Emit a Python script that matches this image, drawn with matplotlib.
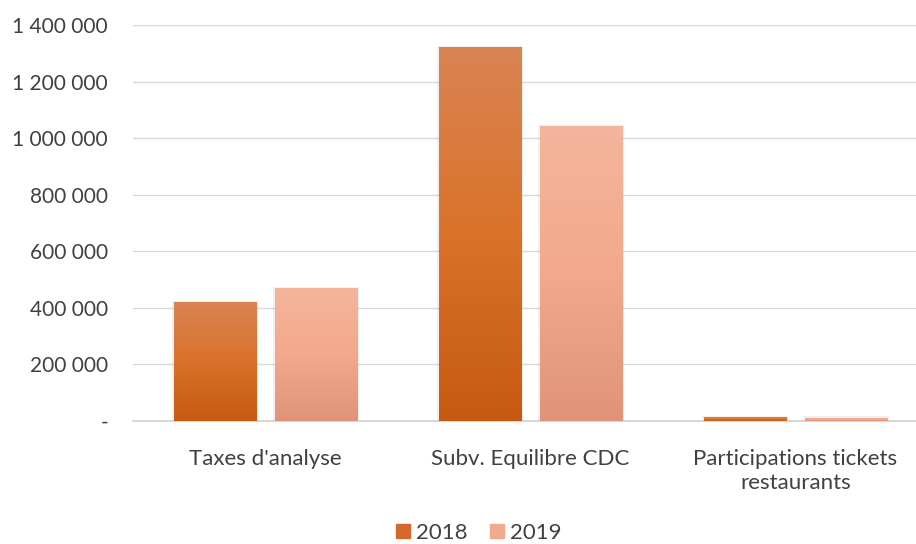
import numpy as np
import matplotlib
matplotlib.use("Agg")
import matplotlib.pyplot as plt
from matplotlib.colors import LinearSegmentedColormap

categories = ["Taxes d'analyse", "Subv. Equilibre CDC", "Participations tickets\nrestaurants"]
series_names = ["2018", "2019"]
values_2018 = [421000, 1322000, 13000]
values_2019 = [471000, 1043000, 12000]
yticks = [0, 200000, 400000, 600000, 800000, 1000000, 1200000, 1400000]
ytick_labels = ["-", "200 000", "400 000", "600 000", "800 000", "1 000 000", "1 200 000", "1 400 000"]

plt.rcParams['font.family'] = ['Lato', 'DejaVu Sans']
text_color = "#404040"

fig = plt.figure(figsize=(9.16, 5.44), dpi=100)
ax = fig.add_axes([133/916, (544-421)/544, 795/916, 396/544])

x = np.arange(len(categories))
w = 0.31
off = 0.19
grad_2018 = LinearSegmentedColormap.from_list("g18", ["#C65A12", "#DA7229", "#D98454"])
grad_2019 = LinearSegmentedColormap.from_list("g19", ["#E0937A", "#F3A98B", "#F4B59C"])
solid = {"2018": "#D5682A", "2019": "#F2AA8E"}

grad = np.linspace(0, 1, 256).reshape(-1, 1)
for vals, dx, cmap, name in [(values_2018, -off, grad_2018, "2018"), (values_2019, off, grad_2019, "2019")]:
    bars = ax.bar(x + dx, vals, width=w, color=solid[name], label=name, zorder=3, linewidth=0)
    for b in bars:
        x0, y0 = b.get_x(), b.get_y()
        bw, bh = b.get_width(), b.get_height()
        # soft shadow
        ax.bar(x0 + bw/2, bh + 4000, width=bw + 0.012, bottom=0, color="#000000", alpha=0.06, zorder=2, linewidth=0)
        im = ax.imshow(grad, extent=[x0, x0 + bw, y0, y0 + bh], origin="lower", aspect="auto",
                       cmap=cmap, zorder=4)
        im.set_clip_path(b)

ax.set_xlim(-0.5, 2.5)
ax.set_ylim(0, 1400000)
ax.set_yticks(yticks)
ax.set_yticklabels(ytick_labels)
ax.set_xticks(x)
ax.set_xticklabels(categories, linespacing=1.25)
ax.tick_params(axis='both', length=0, colors=text_color)
ax.tick_params(axis='x', labelsize=16, pad=20)
ax.tick_params(axis='y', labelsize=15, pad=18)
ax.grid(axis='y', color="#D9D9D9", linewidth=1, zorder=0)
for s in ["top", "right", "left"]:
    ax.spines[s].set_visible(False)
ax.spines["bottom"].set_color("#D0D0D0")
ax.spines["bottom"].set_linewidth(1.2)

handles = [plt.Rectangle((0, 0), 1, 1, color=solid["2018"]), plt.Rectangle((0, 0), 1, 1, color=solid["2019"])]
leg = fig.legend(handles, series_names, loc="center", bbox_to_anchor=(479/916, 1 - 533/544), ncol=2,
                 frameon=False, fontsize=16, handlelength=0.6, handleheight=0.6, handletextpad=0.3,
                 columnspacing=1.0)
for t in leg.get_texts():
    t.set_color(text_color)

fig.savefig("out.png", dpi=100)
